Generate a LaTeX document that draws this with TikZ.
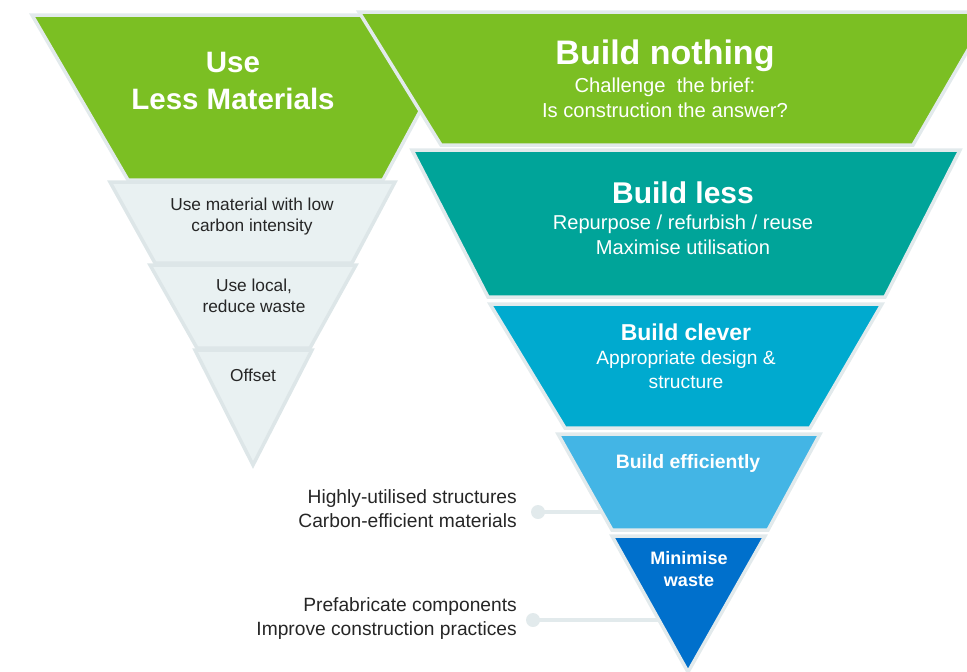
\documentclass[tikz,border=0pt]{standalone}
\usepackage{fontspec}
\setmainfont{Liberation Sans}
\definecolor{cgreen}{HTML}{7BBF23}
\definecolor{cteal}{HTML}{00A499}
\definecolor{cblue}{HTML}{00AACF}
\definecolor{clight}{HTML}{43B5E5}
\definecolor{cdark}{HTML}{0070CC}
\definecolor{segline}{HTML}{E2EAEC}
\definecolor{greyfill}{HTML}{E9F1F2}
\definecolor{greyline}{HTML}{DDE6E8}
\definecolor{textdark}{HTML}{262626}
\begin{document}
\begin{tikzpicture}[x=1pt,y=-1pt,
  seg/.style={draw=segline, line width=3.5pt, line join=miter},
  gseg/.style={draw=greyline, fill=greyfill, line width=3.5pt, line join=miter},
  wt/.style={text=white, inner sep=0pt, anchor=base},
  bt/.style={text=textdark, inner sep=0pt, anchor=base},
  rt/.style={text=textdark, inner sep=0pt, anchor=base east},
  link/.style={draw=segline, line width=4pt},
  dotnode/.style={circle, fill=segline, minimum size=14pt, inner sep=0pt}]
\useasboundingbox (0,0) rectangle (967,672);
\clip (0,0) rectangle (967,672);
% left funnel
\path[seg, fill=cgreen] (32,15) -- (472,15) -- (383,180) -- (128,180) -- cycle;
\path[gseg] (110,182) -- (395,182) -- (352,263) -- (155,263) -- cycle;
\path[gseg] (150,265) -- (356,265) -- (310,348) -- (197,348) -- cycle;
\path[gseg] (195,350) -- (312,350) -- (253,465) -- cycle;
% connectors (behind right funnel)
\node[dotnode] (d1) at (538,512) {};
\coordinate (e1) at (605,512);
\node[dotnode] (d2) at (533,620) {};
\coordinate (e2) at (662,620);
\draw[link] (d1.center) -- (e1);
\draw[link] (d2.center) -- (e2);
% right funnel
\path[seg, fill=cgreen] (359,12) -- (990,12) -- (913,145) -- (441,145) -- cycle;
\path[seg, fill=cteal] (412,150) -- (960,150) -- (885,297) -- (488,297) -- cycle;
\path[seg, fill=cblue] (490,304) -- (882,304) -- (810,428) -- (565,428) -- cycle;
\path[seg, fill=clight] (558,434) -- (820,434) -- (768,530) -- (612,530) -- cycle;
\path[seg, fill=cdark] (612,536) -- (765,536) -- (688,672) -- cycle;
% texts left funnel
\node[wt, font=\fontsize{29.5}{34}\selectfont\bfseries] (t1a) at (233,72) {Use};
\node[wt, font=\fontsize{29.5}{34}\selectfont\bfseries] (t1b) at (233,109) {Less Materials};
\node[bt, font=\fontsize{17.3}{20}\selectfont] (t2a) at (252,210) {Use material with low};
\node[bt, font=\fontsize{17.3}{20}\selectfont] (t2b) at (252,231) {carbon intensity};
\node[bt, font=\fontsize{17.3}{20}\selectfont] (t3a) at (254,291) {Use local,};
\node[bt, font=\fontsize{17.3}{20}\selectfont] (t3b) at (254,312) {reduce waste};
\node[bt, font=\fontsize{17.3}{20}\selectfont] (t4) at (253,381) {Offset};
% texts right funnel
\node[wt, font=\fontsize{34}{40}\selectfont\bfseries] (r1a) at (665,64) {Build nothing};
\node[wt, font=\fontsize{20.2}{24}\selectfont] (r1b) at (665,92) {Challenge\ \ the brief:};
\node[wt, font=\fontsize{20.2}{24}\selectfont] (r1c) at (665,117) {Is construction the answer?};
\node[wt, font=\fontsize{30}{35}\selectfont\bfseries] (r2a) at (683,203) {Build less};
\node[wt, font=\fontsize{20.1}{24}\selectfont] (r2b) at (683,229) {Repurpose / refurbish / reuse};
\node[wt, font=\fontsize{20.1}{24}\selectfont] (r2c) at (683,254) {Maximise utilisation};
\node[wt, font=\fontsize{23}{28}\selectfont\bfseries] (r3a) at (686,340) {Build clever};
\node[wt, font=\fontsize{19.2}{23}\selectfont] (r3b) at (686,364) {Appropriate design \&};
\node[wt, font=\fontsize{19.2}{23}\selectfont] (r3c) at (686,388) {structure};
\node[wt, font=\fontsize{19.4}{23}\selectfont\bfseries] (r4a) at (688,468) {Build efficiently};
\node[wt, font=\fontsize{18}{21}\selectfont\bfseries] (r5a) at (689,564) {Minimise};
\node[wt, font=\fontsize{18}{21}\selectfont\bfseries] (r5b) at (689,586) {waste};
% side labels
\node[rt, font=\fontsize{19.2}{22}\selectfont] (s1a) at (517,503) {Highly-utilised structures};
\node[rt, font=\fontsize{19.2}{22}\selectfont] (s1b) at (517,527) {Carbon-efficient materials};
\node[rt, font=\fontsize{19.2}{22}\selectfont] (s2a) at (517,611) {Prefabricate components};
\node[rt, font=\fontsize{19.2}{22}\selectfont] (s2b) at (517,635) {Improve construction practices};
\end{tikzpicture}
\end{document}
